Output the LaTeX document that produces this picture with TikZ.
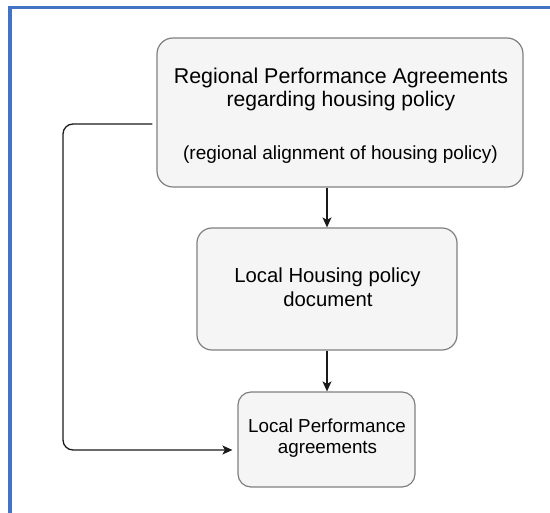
\documentclass[tikz,border=0pt]{standalone}
\usepackage{fontspec}
\setmainfont{Liberation Sans}
\usetikzlibrary{arrows.meta}
\definecolor{frameblue}{HTML}{4472C4}
\definecolor{boxfill}{HTML}{F5F5F5}
\definecolor{boxline}{HTML}{808080}
\definecolor{connline}{HTML}{1A1A1A}
\tikzset{
  box/.style={draw=boxline, fill=boxfill, line width=1.2pt, inner sep=0pt},
  conn/.style={draw=connline, line width=1.3pt, -{Stealth[length=10pt,width=9pt,inset=2.5pt]}},
  txt/.style={anchor=base, inner sep=0pt, text=black},
}
\begin{document}
\begin{tikzpicture}[x=1pt,y=-1pt]
\useasboundingbox (0,0) rectangle (550,513);
% frame
\draw[frameblue, line width=3.5pt] (10.2,520) -- (10.2,7.5) -- (560,7.5);
% boxes
\node[box, rounded corners=16pt, minimum width=366pt, minimum height=149pt] (top) at (340,112.5) {};
\node[box, rounded corners=15pt, minimum width=260pt, minimum height=122pt] (mid) at (327,289) {};
\node[box, rounded corners=13pt, minimum width=177pt, minimum height=95pt] (bot) at (326.5,439.5) {};
% texts
\node[txt, font=\fontsize{21.4}{24}\selectfont] (t1a) at (341,84) {Regional Performance Agreements};
\node[txt, font=\fontsize{21.1}{24}\selectfont] (t1b) at (341,107) {regarding housing policy};
\node[txt, font=\fontsize{19}{22}\selectfont] (t1c) at (340.5,160) {(regional alignment of housing policy)};
\node[txt, font=\fontsize{20.3}{23}\selectfont] (t2a) at (327.5,283) {Local Housing policy};
\node[txt, font=\fontsize{20.3}{23}\selectfont] (t2b) at (328,307) {document};
\node[txt, font=\fontsize{18.8}{22}\selectfont] (t3a) at (327,433) {Local Performance};
\node[txt, font=\fontsize{18.8}{22}\selectfont] (t3b) at (327.5,454) {agreements};
% connectors
\coordinate (c1) at (63,124);
\coordinate (c2) at (63,450);
\draw[conn] (top.south -| mid.north) -- (mid.north);
\draw[conn] (mid.south) -- (mid.south |- bot.north);
\draw[conn, rounded corners=10pt, shorten >=5pt] ([xshift=-4pt]top.west |- c1) -- (c1) -- (c2) -- (bot.west |- c2);
\end{tikzpicture}
\end{document}
